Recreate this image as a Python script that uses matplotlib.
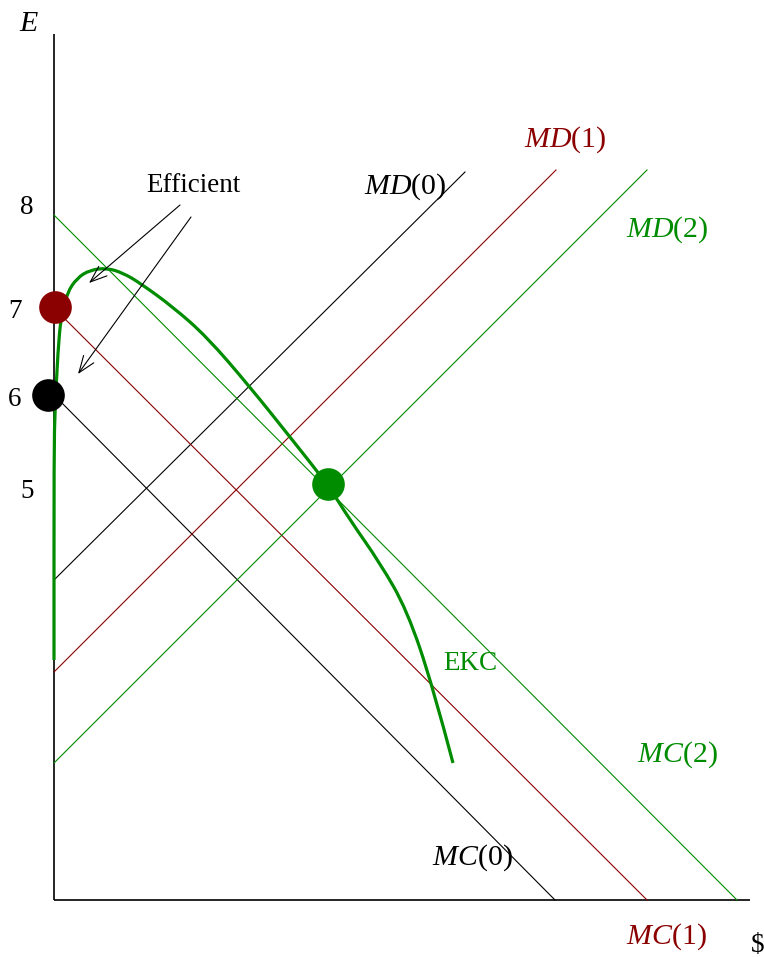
import matplotlib
matplotlib.use("Agg")
import matplotlib.pyplot as plt
import numpy as np
from matplotlib.path import Path
from matplotlib.patches import PathPatch

plt.rcParams['font.family'] = ['Liberation Serif', 'DejaVu Serif']
plt.rcParams['mathtext.fontset'] = 'custom'
plt.rcParams['mathtext.rm'] = 'Liberation Serif'
plt.rcParams['mathtext.it'] = 'Liberation Serif:italic'

RED = '#8b0000'
GREEN = '#008c00'
colors = ['black', RED, GREEN]

# marginal cost lines: from (0, y0) down to (x1, 0)
mc_y0 = [505, 592, 685]
mc_x1 = [501, 593, 683]
# marginal damage lines: from (0, y0) up to (x1, y1)
md_y0 = [320, 228, 137]
md_x1 = [411, 502, 593]
md_y1 = [728, 730, 730]

# environmental Kuznets curve, spline control points
ekc_x = [0, 0, 1, 4, 7, 13, 23, 36, 53, 69, 86, 119, 153, 196, 236, 274,
         296, 326, 353, 379, 399]
ekc_y = [240, 450, 490, 550, 583, 607, 622, 630, 632, 627, 617, 593, 563,
         513, 463, 415, 380, 337, 290, 213, 137]

# efficient points
dot_x = [-6, 1, 274]
dot_y = [505, 593, 416]

tick_vals = ['8', '7', '6', '5']
tick_x = [-27, -39, -39, -27]
tick_y = [692, 589, 500, 408]

fig = plt.figure(figsize=(7.64, 9.57), dpi=100)
ax = fig.add_axes([0, 0, 1, 1])
ax.set_xlim(-54, 710)
ax.set_ylim(-57, 900)
ax.axis('off')

# axes
ax.plot([0, 0], [0, 866], color='black', lw=1.2, solid_capstyle='butt')
ax.plot([0, 696], [0, 0], color='black', lw=1.2, solid_capstyle='butt')

for i in range(3):
    ax.plot([0, mc_x1[i]], [mc_y0[i], 0], color=colors[i], lw=0.8)
    ax.plot([0, md_x1[i]], [md_y0[i], md_y1[i]], color=colors[i], lw=0.8)

# smooth quadratic B-spline through the control points
pts = np.column_stack([ekc_x, ekc_y]).astype(float)
verts = [pts[0], (pts[0] + pts[1]) / 2]
codes = [Path.MOVETO, Path.LINETO]
for i in range(1, len(pts) - 1):
    end = pts[i + 1] if i == len(pts) - 2 else (pts[i] + pts[i + 1]) / 2
    verts += [pts[i], end]
    codes += [Path.CURVE3, Path.CURVE3]
ax.add_patch(PathPatch(Path(verts, codes), fill=False, edgecolor=GREEN,
                       lw=2.3, zorder=3))

for i in range(3):
    ax.plot(dot_x[i], dot_y[i], 'o', color=colors[i], ms=23.5, mec='none', zorder=5)

fs = 19.5
mfs = 21.5
for t, x, y in zip(tick_vals, tick_x, tick_y):
    ax.text(x, y, t, fontsize=fs, ha='center', va='center')

ax.text(-25, 876, '$E$', fontsize=mfs, ha='center', va='center')
ax.text(704, -45, r'\$', fontsize=fs, ha='center', va='center')

ax.text(351, 713, '$MD(0)$', fontsize=mfs, ha='center', va='center', color='black')
ax.text(511, 760, '$MD(1)$', fontsize=mfs, ha='center', va='center', color=RED)
ax.text(613, 670, '$MD(2)$', fontsize=mfs, ha='center', va='center', color=GREEN)
ax.text(418, 42, '$MC(0)$', fontsize=mfs, ha='center', va='center', color='black')
ax.text(612, -37, '$MC(1)$', fontsize=mfs, ha='center', va='center', color=RED)
ax.text(623, 145, '$MC(2)$', fontsize=mfs, ha='center', va='center', color=GREEN)
ax.text(416, 236, 'EKC', fontsize=fs, ha='center', va='center', color=GREEN)

ax.text(139, 714, 'Efficient', fontsize=fs, ha='center', va='center')
arrow = dict(arrowstyle='->,head_length=1.2,head_width=0.45', color='black', lw=0.8,
             shrinkA=0, shrinkB=0)
ax.annotate('', xy=(35, 617), xytext=(126, 695), arrowprops=arrow)
ax.annotate('', xy=(24, 526), xytext=(137, 683), arrowprops=arrow)

plt.savefig('out.png', dpi=100)
